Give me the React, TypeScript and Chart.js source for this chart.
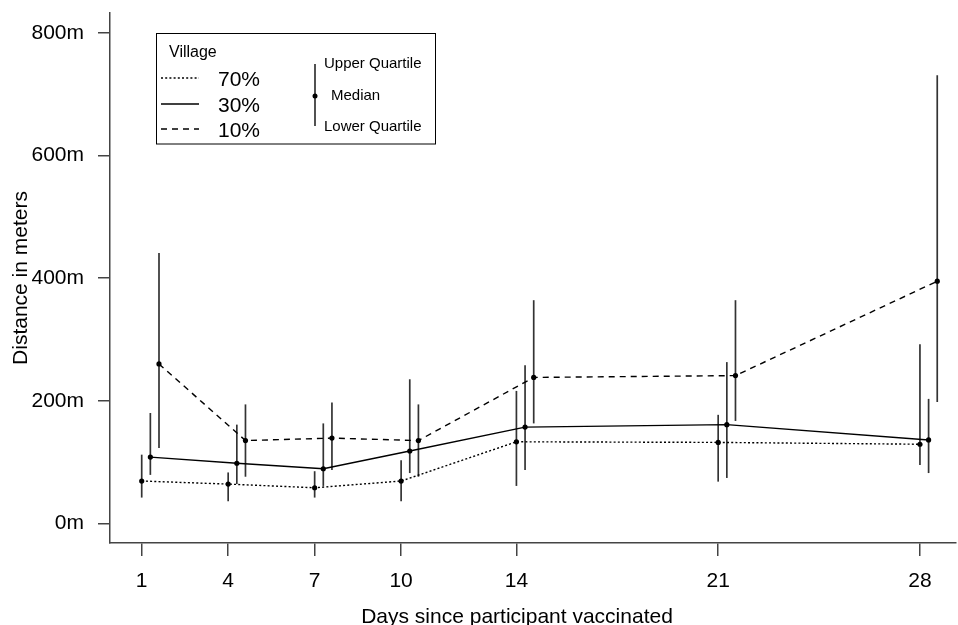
import React, { useEffect, useRef } from "react";
import { Chart, registerables } from "chart.js";

Chart.register(...registerables);

// ---- data ----
const days = [1, 4, 7, 10, 14, 21, 28];
const seriesNames = ["70%", "30%", "10%"];
const dayOffsets = [0, 0.3, 0.6];

const median70 = [69, 64, 58, 69, 133, 132, 129];
const upper70 = [112, 83, 85, 103, 216, 177, 292];
const lower70 = [42, 36, 42, 36, 61, 68, 95];

const median30 = [108, 98, 89, 118, 157, 161, 136];
const upper30 = [180, 161, 163, 235, 258, 263, 203];
const lower30 = [79, 64, 61, 82, 87, 74, 82];

const median10 = [260, 135, 139, 135, 238, 241, 395];
const upper10 = [441, 194, 197, 194, 364, 364, 731];
const lower10 = [123, 76, 87, 76, 163, 167, 198];

const yTickValues = [0, 200, 400, 600, 800];
const xTitle = "Days since participant vaccinated";
const yTitle = "Distance in meters";
const legendTitle = "Village";
const quartileLabels = ["Upper Quartile", "Median", "Lower Quartile"];

const FONT = "'Liberation Sans', Arial, Helvetica, sans-serif";

const medians = [median70, median30, median10];
const uppers = [upper70, upper30, upper10];
const lowers = [lower70, lower30, lower10];
const dashes: number[][] = [[2, 2.2], [], [6, 5]];

const errorBarPlugin = {
  id: "errorBars",
  beforeDatasetsDraw(chart: any) {
    const { ctx, scales } = chart;
    const x = scales.x;
    const y = scales.y;
    ctx.save();
    ctx.strokeStyle = "#333";
    ctx.lineWidth = 1.7;
    ctx.setLineDash([]);
    medians.forEach((_m, si) => {
      days.forEach((d, i) => {
        const px = x.getPixelForValue(d + dayOffsets[si]);
        ctx.beginPath();
        ctx.moveTo(px, y.getPixelForValue(lowers[si][i]));
        ctx.lineTo(px, y.getPixelForValue(uppers[si][i]));
        ctx.stroke();
      });
    });
    ctx.restore();
  },
};

const decorPlugin = {
  id: "decor",
  afterDraw(chart: any) {
    const { ctx } = chart;
    ctx.save();
    // x-axis title
    ctx.fillStyle = "#000";
    ctx.font = `21px ${FONT}`;
    ctx.textAlign = "center";
    ctx.textBaseline = "alphabetic";
    ctx.fillText(xTitle, 517, 623);

    // legend box
    ctx.strokeStyle = "#000";
    ctx.lineWidth = 1;
    ctx.setLineDash([]);
    ctx.strokeRect(156.5, 33.5, 279, 110.5);

    ctx.textAlign = "left";
    ctx.font = `16px ${FONT}`;
    ctx.fillText(legendTitle, 169, 56.7);

    const lineYs = [78, 104, 129];
    const textBase = [86, 111.7, 136.7];
    seriesNames.forEach((name, i) => {
      ctx.beginPath();
      ctx.setLineDash(dashes[i]);
      ctx.lineWidth = 1.4;
      ctx.moveTo(161, lineYs[i]);
      ctx.lineTo(199, lineYs[i]);
      ctx.stroke();
      ctx.setLineDash([]);
      ctx.font = `21px ${FONT}`;
      ctx.fillText(name, 218, textBase[i]);
    });

    // quartile key
    ctx.strokeStyle = "#333";
    ctx.lineWidth = 1.7;
    ctx.beginPath();
    ctx.moveTo(315, 64);
    ctx.lineTo(315, 126);
    ctx.stroke();
    ctx.fillStyle = "#000";
    ctx.beginPath();
    ctx.arc(315, 96, 2.5, 0, Math.PI * 2);
    ctx.fill();
    ctx.font = `15px ${FONT}`;
    ctx.fillText(quartileLabels[0], 324, 68.3);
    ctx.fillText(quartileLabels[1], 331, 100);
    ctx.fillText(quartileLabels[2], 324, 130.7);
    ctx.restore();
  },
};

export default function App() {
  const canvasRef = useRef<HTMLCanvasElement | null>(null);

  useEffect(() => {
    const canvas = canvasRef.current;
    if (!canvas) return;
    const datasets = seriesNames.map((name, si) => ({
      label: name,
      data: days.map((d, i) => ({ x: d + dayOffsets[si], y: medians[si][i] })),
      borderColor: "#000",
      borderWidth: 1.4,
      borderDash: dashes[si],
      pointRadius: 2.6,
      pointBackgroundColor: "#000",
      pointBorderWidth: 0,
      pointHoverRadius: 2.6,
      fill: false,
      tension: 0,
    }));

    const chart = new Chart(canvas, {
      type: "line",
      data: { datasets },
      plugins: [errorBarPlugin, decorPlugin],
      options: {
        animation: false,
        responsive: false,
        devicePixelRatio: 1,
        layout: { padding: { top: 13, left: 0, right: 0, bottom: 0 } },
        plugins: {
          legend: { display: false },
          tooltip: { enabled: false },
        },
        scales: {
          x: {
            type: "linear",
            position: "bottom",
            min: -0.1,
            max: 29.23,
            afterBuildTicks: (scale: any) => {
              scale.ticks = days.map((v) => ({ value: v }));
            },
            afterFit: (scale: any) => {
              scale.height = 82;
              scale.paddingLeft = 0;
              scale.paddingRight = 0;
            },
            ticks: {
              autoSkip: false,
              maxRotation: 0,
              color: "#000",
              padding: 13,
              font: { family: FONT, size: 21 },
              callback: (v: any) => String(v),
            },
            grid: {
              drawOnChartArea: false,
              drawTicks: true,
              tickLength: 13,
              color: "#444",
              lineWidth: 1.5,
            },
            border: { display: true, color: "#444", width: 1.5 },
          },
          y: {
            type: "linear",
            position: "left",
            min: -32.1,
            max: 832.5,
            afterBuildTicks: (scale: any) => {
              scale.ticks = yTickValues.map((v) => ({ value: v }));
            },
            afterFit: (scale: any) => {
              scale.width = 110;
              scale.paddingTop = 0;
              scale.paddingBottom = 0;
            },
            ticks: {
              color: "#000",
              padding: 14,
              font: { family: FONT, size: 21 },
              callback: (v: any) => `${v}m`,
            },
            grid: {
              drawOnChartArea: false,
              drawTicks: true,
              tickLength: 12,
              color: "#444",
              lineWidth: 1.5,
            },
            border: { display: true, color: "#444", width: 1.5 },
            title: {
              display: true,
              text: yTitle,
              color: "#000",
              font: { family: FONT, size: 21, lineHeight: 0.9 },
              padding: { top: 12, bottom: 0 },
            },
          },
        },
      },
    });
    return () => chart.destroy();
  }, []);

  return (
    <div style={{ position: "absolute", left: 0, top: 0, width: 958, height: 625, background: "#fff" }}>
      <canvas ref={canvasRef} width={958} height={625} style={{ display: "block" }} />
    </div>
  );
}
